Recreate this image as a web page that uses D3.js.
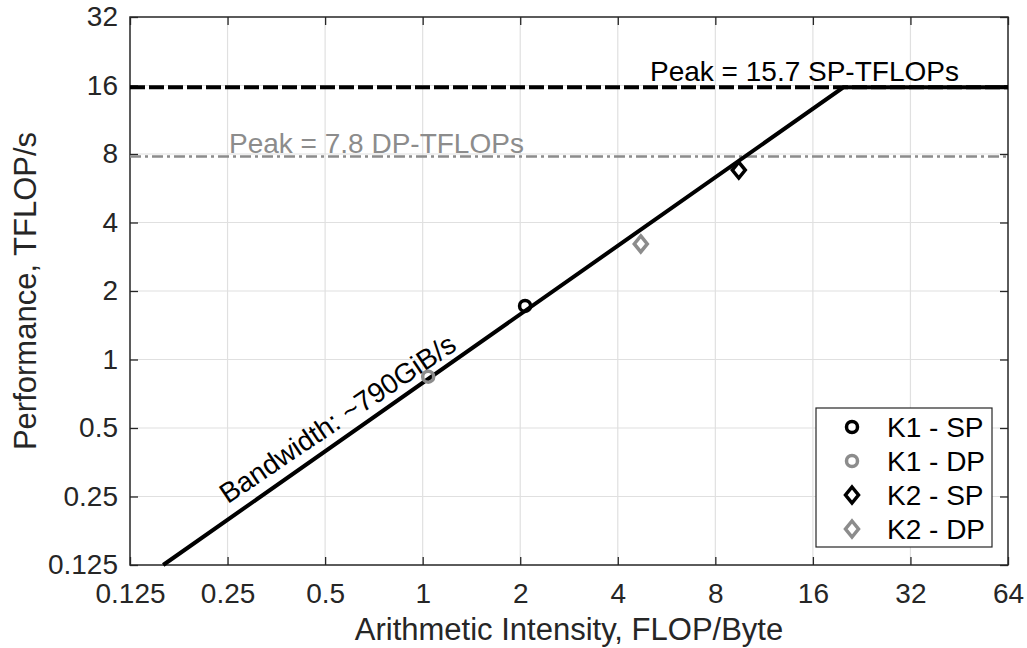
<!DOCTYPE html>
<html>
<head>
<meta charset="utf-8">
<script src="https://cdn.jsdelivr.net/npm/d3@7"></script>
<style>
  body { margin: 0; background: #fff; }
  svg { font-family: "Liberation Sans", Arial, sans-serif; }
</style>
</head>
<body>
<script>
// axis ticks (powers of two)
const xTicks = [0.125, 0.25, 0.5, 1, 2, 4, 8, 16, 32, 64];
const yTicks = [0.125, 0.25, 0.5, 1, 2, 4, 8, 16, 32];

// roofline parameters
const bandwidth = 0.79;   // TFLOP/s per FLOP/Byte (~790 GiB/s)
const peakSP = 15.7;
const peakDP = 7.8;

// measured kernels
const kernels = ['K1 - SP', 'K1 - DP', 'K2 - SP', 'K2 - DP'];
const intensity = [2.07, 1.04, 9.45, 4.71];
const performance = [1.72, 0.84, 6.8, 3.22];
const markerShape = ['circle', 'circle', 'diamond', 'diamond'];
const markerColor = ['#000000', '#8c8c8c', '#000000', '#8c8c8c'];

const width = 1027;
const height = 648;
const margin = { left: 130, right: 19, top: 17, bottom: 83 };

const svg = d3.select('body').append('svg')
  .attr('width', width)
  .attr('height', height);

const x = d3.scaleLog().base(2)
  .domain([0.125, 64])
  .range([margin.left, width - margin.right]);

const y = d3.scaleLog().base(2)
  .domain([0.125, 32])
  .range([height - margin.bottom, margin.top]);

const x0 = margin.left, x1 = width - margin.right;
const y0 = height - margin.bottom, y1 = margin.top;

// grid
svg.append('g').selectAll('line').data(xTicks.slice(1, -1)).join('line')
  .attr('x1', d => x(d)).attr('x2', d => x(d))
  .attr('y1', y0).attr('y2', y1)
  .attr('stroke', '#e0e0e0').attr('stroke-width', 1.2);
svg.append('g').selectAll('line').data(yTicks.slice(1, -1)).join('line')
  .attr('y1', d => y(d)).attr('y2', d => y(d))
  .attr('x1', x0).attr('x2', x1)
  .attr('stroke', '#e0e0e0').attr('stroke-width', 1.2);

// axes
const tickLen = 8;
svg.append('g')
  .attr('transform', `translate(0,${y0})`)
  .call(d3.axisBottom(x).tickValues(xTicks).tickFormat(d => String(d)).tickSizeInner(-tickLen).tickSizeOuter(0).tickPadding(18));
svg.append('g')
  .attr('transform', `translate(${x0},0)`)
  .call(d3.axisLeft(y).tickValues(yTicks).tickFormat(d => String(d)).tickSizeInner(-tickLen).tickSizeOuter(0).tickPadding(12));
svg.append('g')
  .attr('transform', `translate(0,${y1})`)
  .call(d3.axisTop(x).tickValues(xTicks).tickFormat('').tickSizeInner(-tickLen).tickSizeOuter(0));
svg.append('g')
  .attr('transform', `translate(${x1},0)`)
  .call(d3.axisRight(y).tickValues(yTicks).tickFormat('').tickSizeInner(-tickLen).tickSizeOuter(0));

svg.selectAll('.domain').remove();
svg.selectAll('.tick line').attr('stroke', '#262626').attr('stroke-width', 1.3);
svg.selectAll('.tick text').attr('fill', '#262626').style('font-size', '28px');

svg.append('rect')
  .attr('x', x0).attr('y', y1)
  .attr('width', x1 - x0).attr('height', y0 - y1)
  .attr('fill', 'none').attr('stroke', '#262626').attr('stroke-width', 1.5);

// peak lines
svg.append('line')
  .attr('x1', x0).attr('x2', x1)
  .attr('y1', y(peakDP)).attr('y2', y(peakDP))
  .attr('stroke', '#8c8c8c').attr('stroke-width', 2.5)
  .attr('stroke-dasharray', '11,4,3,4');
svg.append('line')
  .attr('x1', x0).attr('x2', x1)
  .attr('y1', y(peakSP)).attr('y2', y(peakSP))
  .attr('stroke', '#000').attr('stroke-width', 4)
  .attr('stroke-dasharray', '15,4');

// roofline
const roof = [
  [0.125 / bandwidth, 0.125],
  [peakSP / bandwidth, peakSP],
  [64, peakSP]
];
svg.append('path')
  .attr('d', d3.line().x(d => x(d[0])).y(d => y(d[1]))(roof))
  .attr('fill', 'none')
  .attr('stroke', '#000').attr('stroke-width', 4);

// labels on lines
svg.append('text')
  .attr('x', 650).attr('y', y(peakSP) - 6)
  .attr('fill', '#000').style('font-size', '28px')
  .text('Peak = 15.7 SP-TFLOPs');
svg.append('text')
  .attr('x', 229).attr('y', y(peakDP) - 4)
  .attr('fill', '#8c8c8c').style('font-size', '28px')
  .text('Peak = 7.8 DP-TFLOPs');

const bwAt = 0.59;
const bx = x(bwAt), by = y(bwAt * bandwidth);
svg.append('text')
  .attr('transform', `translate(${bx},${by}) rotate(-34)`)
  .attr('text-anchor', 'middle')
  .attr('y', -10)
  .attr('fill', '#000').style('font-size', '28px')
  .text('Bandwidth: ~790GiB/s');

// markers
const diamondPath = 'M0,-8L6.5,0L0,8L-6.5,0Z';
function marker(g, shape, color, px, py) {
  if (shape === 'circle') {
    g.append('circle').attr('cx', px).attr('cy', py).attr('r', 5.5)
      .attr('fill', 'none').attr('stroke', color).attr('stroke-width', 3.5);
  } else {
    g.append('path').attr('d', diamondPath)
      .attr('transform', `translate(${px},${py})`)
      .attr('fill', 'none').attr('stroke', color).attr('stroke-width', 3.5);
  }
}
const pts = svg.append('g');
kernels.forEach((k, i) => {
  marker(pts, markerShape[i], markerColor[i], x(intensity[i]), y(performance[i]));
});

// axis titles
svg.append('text')
  .attr('x', (x0 + x1) / 2).attr('y', 640)
  .attr('text-anchor', 'middle').attr('fill', '#262626').style('font-size', '31px')
  .text('Arithmetic Intensity, FLOP/Byte');
svg.append('text')
  .attr('transform', `translate(36,${(y0 + y1) / 2}) rotate(-90)`)
  .attr('text-anchor', 'middle').attr('fill', '#262626').style('font-size', '31px')
  .text('Performance, TFLOP/s');

// legend
const lg = svg.append('g').attr('transform', 'translate(816,408)');
lg.append('rect').attr('width', 176).attr('height', 139)
  .attr('fill', '#fff').attr('stroke', '#262626').attr('stroke-width', 1.2);
kernels.forEach((k, i) => {
  const ly = 19 + i * 34;
  marker(lg, markerShape[i], markerColor[i], 36, ly);
  lg.append('text').attr('x', 71).attr('y', ly + 10)
    .attr('fill', '#000').style('font-size', '28px')
    .text(k);
});
</script>
</body>
</html>
